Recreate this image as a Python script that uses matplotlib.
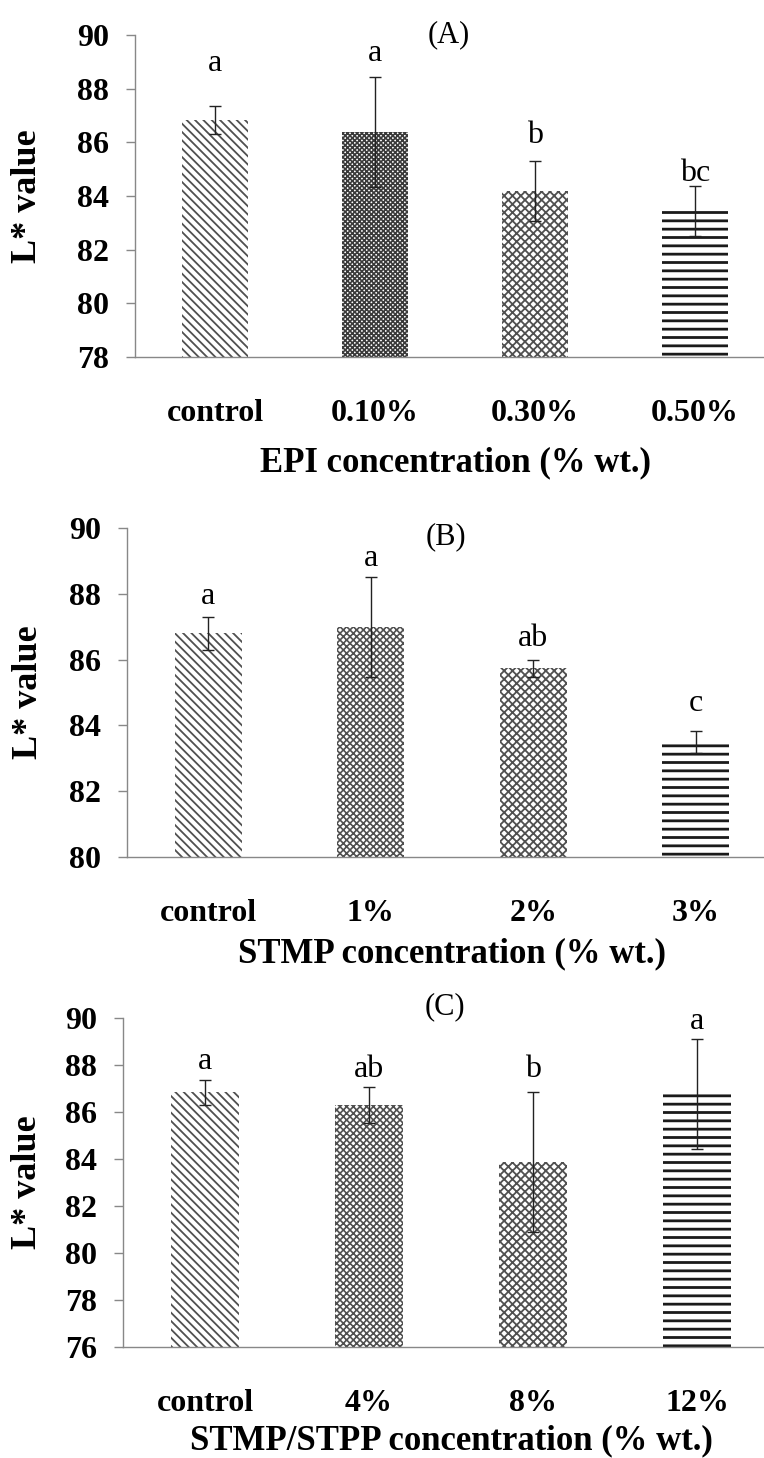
import numpy as np
import matplotlib.pyplot as plt

plt.rcParams['font.family'] = ['Liberation Serif', 'DejaVu Serif']

# L* values (mean, sd) and significance letters per treatment
epi_labels = ['control', '0.10%', '0.30%', '0.50%']
epi_mean = [86.83, 86.37, 84.19, 83.44]
epi_sd = [0.53, 2.05, 1.12, 0.92]
epi_letters = ['a', 'a', 'b', 'bc']

stmp_labels = ['control', '1%', '2%', '3%']
stmp_mean = [86.80, 86.99, 85.73, 83.50]
stmp_sd = [0.51, 1.53, 0.25, 0.33]
stmp_letters = ['a', 'a', 'ab', 'c']

mix_labels = ['control', '4%', '8%', '12%']
mix_mean = [86.83, 86.30, 83.88, 86.77]
mix_sd = [0.52, 0.77, 2.99, 2.33]
mix_letters = ['a', 'ab', 'b', 'a']

W, H = 764, 1458


def rect(left, top, bottom, right):
    return [left / W, 1 - bottom / H, (right - left) / W, (bottom - top) / H]


panels = [
    dict(rect=rect(135, 35, 357, 775), ylim=(78, 90), tag='(A)', tag_y=1.0,
         xlabel='EPI concentration (% wt.)', xlabel_y=-0.33,
         labels=epi_labels, mean=epi_mean, sd=epi_sd, letters=epi_letters,
         letter_y=[88.94, 89.32, 86.27, 84.84],
         hatches=['\\\\\\\\', 'xxxxxxx', 'xxxx', '--'],
         colors=['#505050', '#3a3a3a', '#505050', '#1a1a1a']),
    dict(rect=rect(127, 528, 857, 777), ylim=(80, 90), tag='(B)', tag_y=0.973,
         xlabel='STMP concentration (% wt.)', xlabel_y=-0.295,
         labels=stmp_labels, mean=stmp_mean, sd=stmp_sd, letters=stmp_letters,
         letter_y=[87.91, 89.08, 86.65, 84.68],
         hatches=['\\\\\\\\', 'xxxxx', 'xxxx', '--'],
         colors=['#505050', '#505050', '#505050', '#1a1a1a']),
    dict(rect=rect(123, 1018, 1347, 779), ylim=(76, 90), tag='(C)', tag_y=1.033,
         xlabel='STMP/STPP concentration (% wt.)', xlabel_y=-0.285,
         labels=mix_labels, mean=mix_mean, sd=mix_sd, letters=mix_letters,
         letter_y=[88.17, 87.79, 87.82, 89.85],
         hatches=['\\\\\\\\', 'xxxxx', 'xxxx', '--'],
         colors=['#505050', '#505050', '#505050', '#1a1a1a']),
]
# hatch line widths per bar: stripes, lattice, weave, horizontal lines
hatch_lw = [1.3, 1.2, 1.3, 2.0]

fig = plt.figure(figsize=(W / 100, H / 100), dpi=100)

for p in panels:
    ax = fig.add_axes(p['rect'])
    x = np.arange(len(p['labels']))
    for i in x:
        with plt.rc_context({'hatch.linewidth': hatch_lw[i]}):
            ax.bar(i, p['mean'][i], width=0.41, color='white', edgecolor=p['colors'][i],
                   linewidth=0, hatch=p['hatches'][i])
    ax.errorbar(x, p['mean'], yerr=p['sd'], fmt='none', ecolor='#222222',
                elinewidth=1, capsize=4.5, capthick=1)
    for i in x:
        ax.text(i, p['letter_y'][i], p['letters'][i], ha='center', va='center', fontsize=23)

    ax.set_xlim(-0.5, len(x) - 0.5)
    ax.set_ylim(*p['ylim'])
    ax.set_yticks(np.arange(p['ylim'][0], p['ylim'][1] + 1, 2))
    ax.set_xticks(x)
    ax.set_xticklabels(p['labels'])
    for lab in ax.get_xticklabels() + ax.get_yticklabels():
        lab.set_fontweight('bold')
        lab.set_fontsize(23)
    ax.tick_params(axis='x', length=0, pad=30)
    ax.tick_params(axis='y', length=6.5, width=1, color='#888888', pad=12)

    for s in ['top', 'right']:
        ax.spines[s].set_visible(False)
    for s in ['left', 'bottom']:
        ax.spines[s].set_color('#888888')
        ax.spines[s].set_linewidth(1)

    ax.set_ylabel('L* value', fontsize=26, fontweight='bold', va='center')
    ax.yaxis.set_label_coords((28 - p['rect'][0] * W) / (p['rect'][2] * W), 0.5)
    ax.set_xlabel(p['xlabel'], fontsize=25, fontweight='bold', va='center')
    ax.xaxis.set_label_coords(0.5, p['xlabel_y'])
    ax.text(0.49, p['tag_y'], p['tag'], transform=ax.transAxes, ha='center', va='center',
            fontsize=22)

fig.savefig('out.png', dpi=100)
